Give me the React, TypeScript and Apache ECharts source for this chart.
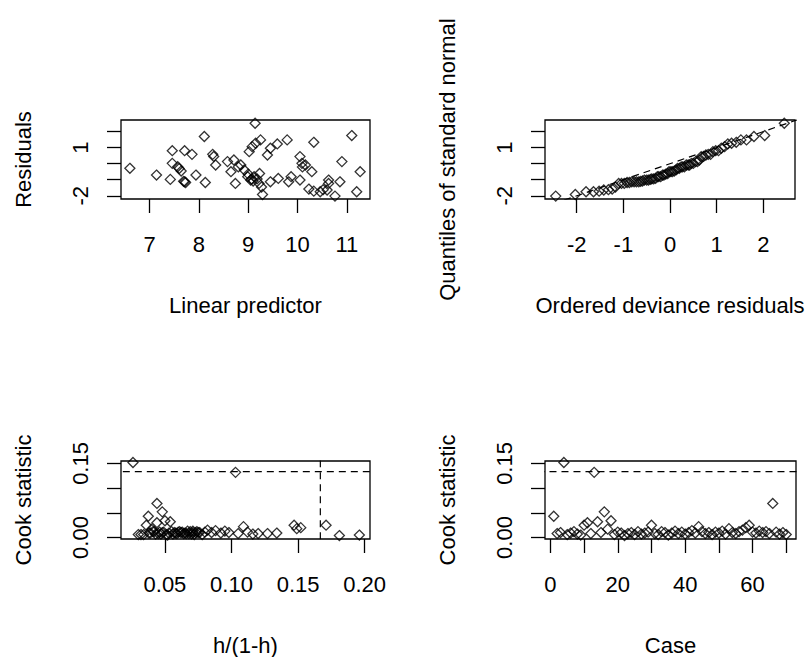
import React, { useEffect, useRef } from "react";
import * as echarts from "echarts";

// ---- Data ----
const linearPredictor = [
  6.6, 7.14, 7.42, 7.71, 7.73, 7.69, 7.46, 7.71, 7.86, 7.46,
  7.57, 7.64, 7.6, 7.94, 8.13, 8.11, 8.28, 8.3, 8.34, 8.58,
  8.65, 8.71, 8.74, 8.85, 8.92, 8.99, 9.05, 9.07, 9.1, 9.12,
  9.02, 9.08, 9.15, 9.25, 9.14, 9.23, 9.22, 9.29, 9.27, 9.39,
  9.45, 9.59, 9.79, 9.45, 9.61, 9.82, 9.87, 10.05, 10.05, 10.09,
  10.16, 10.29, 10.33, 10.23, 10.33, 10.46, 10.6, 10.63, 10.63, 10.76,
  10.86, 10.9, 11.1, 11.27, 11.2, 9.0, 8.8, 10.1, 9.18, 10.52,
];
const residuals = [
  -0.29, -0.71, -0.98, -1.13, -1.17, -1.1, 0.81, 0.81, 0.58, 0.02,
  -0.19, -0.46, -0.3, -0.71, -1.17, 1.69, 0.58, 0.45, -0.08, 0.13,
  -0.5, 0.23, -1.23, -0.08, -0.39, -0.81, -1.02, -0.95, -1.08, -0.81,
  0.75, 1.06, 1.27, 1.48, 2.52, -0.61, -1.23, -1.92, -1.45, 0.54,
  0.96, 1.23, 1.48, -1.13, -0.92, -1.13, -0.81, -1.02, 0.44, 0.02,
  -0.08, -0.5, 1.33, -1.58, -1.71, -1.75, -1.64, -1.02, -1.23, -2.02,
  -1.13, 0.13, 1.75, -0.5, -1.75, -0.65, -0.2, -0.2, -0.95, -1.62,
];
const normalQuantiles = [
  -2.45, -2.03, -1.8, -1.64, -1.52, -1.42, -1.32, -1.24, -1.17, -1.1,
  -1.04, -0.98, -0.92, -0.87, -0.82, -0.77, -0.72, -0.67, -0.63, -0.59,
  -0.55, -0.5, -0.46, -0.42, -0.39, -0.35, -0.31, -0.27, -0.24, -0.2,
  -0.16, -0.13, -0.09, -0.05, -0.02, 0.02, 0.05, 0.09, 0.13, 0.16,
  0.2, 0.24, 0.27, 0.31, 0.35, 0.39, 0.42, 0.46, 0.5, 0.55,
  0.59, 0.63, 0.67, 0.72, 0.77, 0.82, 0.87, 0.92, 0.98, 1.04,
  1.1, 1.17, 1.24, 1.32, 1.42, 1.52, 1.64, 1.8, 2.03, 2.45,
];
const orderedResiduals = [
  -2.02, -1.92, -1.75, -1.75, -1.71, -1.64, -1.62, -1.58, -1.45, -1.23,
  -1.23, -1.23, -1.17, -1.17, -1.13, -1.13, -1.13, -1.13, -1.1, -1.08,
  -1.02, -1.02, -1.02, -0.98, -0.95, -0.95, -0.92, -0.81, -0.81, -0.81,
  -0.71, -0.71, -0.65, -0.61, -0.5, -0.5, -0.5, -0.46, -0.39, -0.3,
  -0.29, -0.2, -0.2, -0.19, -0.08, -0.08, -0.08, 0.02, 0.02, 0.13,
  0.13, 0.23, 0.44, 0.45, 0.54, 0.58, 0.58, 0.75, 0.81, 0.81,
  0.96, 1.06, 1.23, 1.27, 1.33, 1.48, 1.48, 1.69, 1.75, 2.52,
];
const cookStatistic = [
  0.043, 0.008, 0.01, 0.152, 0.006, 0.009, 0.012, 0.007, 0.005, 0.025,
  0.03, 0.008, 0.132, 0.032, 0.01, 0.052, 0.017, 0.034, 0.006, 0.011,
  0.009, 0.004, 0.008, 0.01, 0.006, 0.012, 0.007, 0.009, 0.011, 0.025,
  0.008, 0.006, 0.012, 0.01, 0.005, 0.009, 0.013, 0.008, 0.011, 0.007,
  0.01, 0.014, 0.009, 0.022, 0.012, 0.008, 0.01, 0.006, 0.011, 0.009,
  0.013, 0.007, 0.018, 0.01, 0.008, 0.012, 0.015, 0.02, 0.025, 0.011,
  0.009, 0.013, 0.01, 0.012, 0.008, 0.069, 0.011, 0.007, 0.01, 0.006,
];
const leverageRatio = [
  0.0375, 0.045, 0.062, 0.026, 0.03, 0.058, 0.041, 0.07, 0.052, 0.036,
  0.044, 0.066, 0.103, 0.054, 0.048, 0.048, 0.04, 0.05, 0.072, 0.06,
  0.038, 0.181, 0.068, 0.085, 0.034, 0.074, 0.056, 0.092, 0.046, 0.147,
  0.064, 0.078, 0.042, 0.098, 0.196, 0.053, 0.071, 0.059, 0.112, 0.047,
  0.076, 0.088, 0.039, 0.109, 0.069, 0.12, 0.057, 0.032, 0.08, 0.065,
  0.095, 0.043, 0.149, 0.073, 0.127, 0.061, 0.082, 0.152, 0.171, 0.049,
  0.134, 0.067, 0.075, 0.055, 0.105, 0.044, 0.063, 0.116, 0.071, 0.051,
];
const caseNumbers = cookStatistic.map((_, i) => i + 1);
const cookCutoff = 0.1333;
const leverageCutoff = 0.1667;
const identityLine = [-3, 3];

// tick positions / labels
const residTicks = [-2, -1, 0, 1, 2];
const residLabels = [-2, 1];
const lpTicks = [7, 8, 9, 10, 11];
const qqTicks = [-2, -1, 0, 1, 2];
const cookTicks = [0, 0.05, 0.1, 0.15];
const cookLabels = [0, 0.15];
const hTicks = [0.05, 0.1, 0.15, 0.2];
const caseTicks = [0, 10, 20, 30, 40, 50, 60, 70];
const caseLabels = [0, 20, 40, 60];

const titleText = "Figure 1: Diagnostic plots for the Q";

const FONT = '"Liberation Sans", Arial, Helvetica, sans-serif';
const BLACK = "#000";

function makeAxis(
  kind: "x" | "y",
  gridIndex: number,
  min: number,
  max: number,
  ticks: number[],
  labels: number[],
  name: string,
  fmt?: (v: number) => string
) {
  const label: any = {
    customValues: labels,
    margin: kind === "x" ? 34 : 30,
    fontSize: 22,
    fontFamily: FONT,
    color: BLACK,
  };
  if (kind === "y") label.rotate = 90;
  if (fmt) label.formatter = fmt;
  return {
    type: "value",
    gridIndex,
    min,
    max,
    axisLine: { show: false, onZero: false },
    splitLine: { show: false },
    axisTick: {
      show: true,
      customValues: ticks,
      length: 14,
      lineStyle: { color: BLACK, width: 1.3 },
    },
    axisLabel: label,
    name,
    nameLocation: "middle",
    nameGap: kind === "x" ? 95 : 87,
    nameRotate: kind === "y" ? 90 : 0,
    nameTextStyle: { fontSize: 22, fontFamily: FONT, color: BLACK },
  };
}

const diamond = (xAxisIndex: number, data: number[][]) => ({
  type: "scatter",
  xAxisIndex,
  yAxisIndex: xAxisIndex,
  symbol: "diamond",
  symbolSize: 10,
  clip: false,
  silent: true,
  itemStyle: { color: "rgba(0,0,0,0)", borderColor: BLACK, borderWidth: 1.3 },
  data,
});

const dashed = (xAxisIndex: number, data: number[][]) => ({
  type: "line",
  xAxisIndex,
  yAxisIndex: xAxisIndex,
  symbol: "none",
  showSymbol: false,
  silent: true,
  clip: true,
  lineStyle: { color: BLACK, width: 1.2, type: [7, 5] },
  data,
});

export default function App() {
  const ref = useRef<HTMLDivElement>(null);
  useEffect(() => {
    if (!ref.current) return;
    const chart = echarts.init(ref.current, undefined, { renderer: "svg" });
    const fmt2 = (v: number) => v.toFixed(2);
    const gridBase = { show: true, borderColor: BLACK, borderWidth: 1.3, containLabel: false };
    chart.setOption({
      animation: false,
      backgroundColor: "#fff",
      grid: [
        { ...gridBase, left: 121, top: 120, width: 249, height: 79 },
        { ...gridBase, left: 545, top: 120, width: 250, height: 79 },
        { ...gridBase, left: 121, top: 461, width: 249, height: 78 },
        { ...gridBase, left: 545, top: 461, width: 251, height: 78 },
      ],
      xAxis: [
        makeAxis("x", 0, 6.42, 11.47, lpTicks, lpTicks, "Linear predictor"),
        makeAxis("x", 1, -2.68, 2.68, qqTicks, qqTicks, "Ordered deviance residuals"),
        makeAxis("x", 2, 0.017, 0.204, hTicks, hTicks, "h/(1-h)", fmt2),
        makeAxis("x", 3, -1.6, 72.9, caseTicks, caseLabels, "Case"),
      ],
      yAxis: [
        makeAxis("y", 0, -2.2, 2.72, residTicks, residLabels, "Residuals"),
        makeAxis("y", 1, -2.2, 2.72, residTicks, residLabels, "Quantiles of standard normal"),
        makeAxis("y", 2, -0.003, 0.155, cookTicks, cookLabels, "Cook statistic", fmt2),
        makeAxis("y", 3, -0.003, 0.155, cookTicks, cookLabels, "Cook statistic", fmt2),
      ],
      graphic: [
        {
          type: "text",
          x: 68,
          y: -18,
          silent: true,
          style: {
            text: titleText,
            font: '32px "Liberation Serif", "Times New Roman", serif',
            fill: BLACK,
            verticalAlign: "middle",
          },
        },
      ],
      series: [
        diamond(0, linearPredictor.map((x, i) => [x, residuals[i]])),
        dashed(1, [
          [identityLine[0], identityLine[0]],
          [identityLine[1], identityLine[1]],
        ]),
        diamond(1, normalQuantiles.map((x, i) => [x, orderedResiduals[i]])),
        dashed(2, [
          [-1, cookCutoff],
          [1, cookCutoff],
        ]),
        dashed(2, [
          [leverageCutoff, -1],
          [leverageCutoff, 1],
        ]),
        diamond(2, leverageRatio.map((x, i) => [x, cookStatistic[i]])),
        dashed(3, [
          [-100, cookCutoff],
          [200, cookCutoff],
        ]),
        diamond(3, caseNumbers.map((x, i) => [x, cookStatistic[i]])),
      ],
    });
    return () => chart.dispose();
  }, []);
  return (
    <div
      ref={ref}
      style={{ position: "absolute", left: 0, top: 0, width: 808, height: 657 }}
    />
  );
}
